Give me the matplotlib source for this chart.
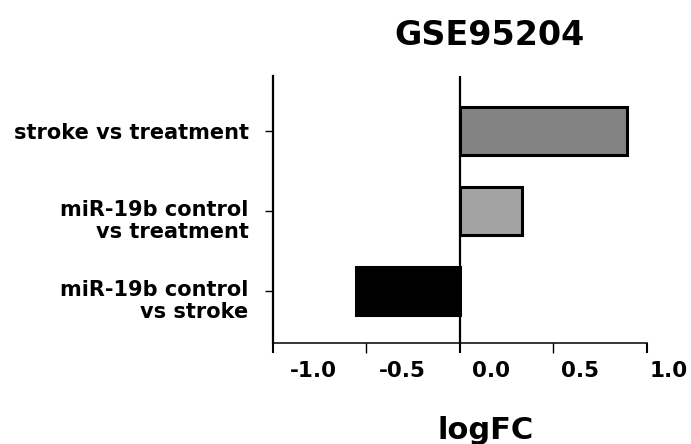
import matplotlib
matplotlib.use("Agg")
import matplotlib.pyplot as plt
from matplotlib.transforms import ScaledTranslation

categories = ["miR-19b control\nvs stroke", "miR-19b control\nvs treatment", "stroke vs treatment"]
logfc = [-0.555, 0.334, 0.894]
colors = ["#000000", "#a3a3a3", "#838383"]
major_ticks = [-1.0, 0.0, 1.0]
minor_ticks = [-0.5, 0.5]
title = "GSE95204"
xlabel = "logFC"

plt.rcParams['font.family'] = ['DejaVu Sans']
plt.rcParams['font.weight'] = 'bold'

W, H = 691, 444
fig = plt.figure(figsize=(W / 100, H / 100), dpi=100)
ax = fig.add_axes([272.7 / W, (H - 343) / H, (646.7 - 272.7) / W, (343 - 76) / H])

ypos = list(range(len(categories)))
ax.barh(ypos, logfc, height=0.6, color=colors, edgecolor="black", linewidth=2.2, zorder=3)
ax.axvline(0, color="black", linewidth=1.6, zorder=4)

ax.set_xlim(-1.0, 1.0)
ax.set_ylim(-0.65, 2.69)

for s in ["top", "right"]:
    ax.spines[s].set_visible(False)
ax.spines["left"].set_linewidth(1.6)
ax.spines["bottom"].set_linewidth(1.1)

ax.set_xticks(major_ticks)
ax.set_xticks(minor_ticks, minor=True)
ax.set_xticklabels([f"{v:.1f}" for v in major_ticks])
ax.set_xticklabels([f"{v:.1f}" for v in minor_ticks], minor=True)
ax.tick_params(axis="x", which="major", direction="out", length=7, width=1.5, pad=6, labelsize=15.5)
ax.tick_params(axis="x", which="minor", direction="out", length=7, width=1.0, pad=6, labelsize=15.5)

ax.set_yticks(ypos)
ax.set_yticklabels(categories, fontsize=15, fontweight="bold", linespacing=1.1, ha="right")
ax.tick_params(axis="y", direction="out", length=5.8, width=1.0, pad=11.5)

# tick labels in the reference sit to the right of their ticks, slightly compressed
for lab, v in zip(ax.get_xticklabels() + ax.get_xticklabels(minor=True), major_ticks + minor_ticks):
    lab.set_fontweight("bold")
    dx = (31.5 - 9.5 * v) / 100
    lab.set_transform(lab.get_transform() + ScaledTranslation(dx, 0, fig.dpi_scale_trans))

yoff = ScaledTranslation(0, -7 / 100, fig.dpi_scale_trans)
for lab in ax.get_yticklabels():
    if "\n" in lab.get_text():
        lab.set_transform(lab.get_transform() + yoff)

fig.text(490 / W, (H - 45) / H, title, ha="center", va="baseline", fontsize=24, fontweight="bold")
fig.text(486 / W, (H - 439) / H, xlabel, ha="center", va="baseline", fontsize=22, fontweight="bold")

fig.savefig("out.png", dpi=100)
